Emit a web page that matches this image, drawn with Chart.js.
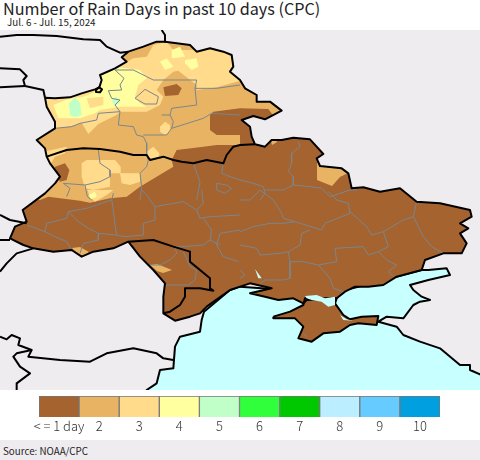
<!DOCTYPE html>
<html>
<head>
<meta charset="utf-8">
<title>Number of Rain Days in past 10 days (CPC)</title>
<script src="https://cdn.jsdelivr.net/npm/chart.js@4/dist/chart.umd.js"></script>
<style>
    html, body { margin: 0; padding: 0; background: #fff; }
    body { position: relative; width: 480px; height: 460px; overflow: hidden; font-family: "Noto Sans CJK JP", "Noto Sans", sans-serif; }
    canvas { position: absolute; left: 0; }
    #titulo { position: absolute; left: 3px; top: -4px; font-size: 16.2px; line-height: 24px; color: #222; white-space: nowrap; }
    #subtitulo { position: absolute; left: 7px; top: 15px; font-size: 9.8px; line-height: 14px; color: #222; white-space: nowrap; }
    #fuente { position: absolute; left: 0; top: 440px; width: 480px; height: 20px; background: #efecf0; font-size: 9.8px; line-height: 22px; color: #222; text-indent: 3px; }
</style>
</head>
<body>
<div id="titulo">Number of Rain Days in past 10 days (CPC)</div>
<div id="subtitulo">Jul. 6 - Jul. 15, 2024</div>
<canvas id="mapa" width="480" height="360" style="top:30px"></canvas>
<canvas id="leyenda" width="480" height="50" style="top:390px"></canvas>
<div id="fuente">Source: NOAA/CPC</div>
<script>
// Leyenda
const categorias = ['< = 1 day', '2', '3', '4', '5', '6', '7', '8', '9', '10'];
const coloresNivel = ['#a5632f', '#e8b464', '#ffdb8b', '#ffff9f', '#c1ffc8', '#30ff3c', '#00c800', '#bbeeff', '#66ccff', '#009fe0'];
const valoresLeyenda = [1, 1, 1, 1, 1, 1, 1, 1, 1, 1];

// Mapa: unidades de rejilla, 3 por pixel
const tierra = [[135,293],[165,295],[210,292],[245,280],[285,268],[298,262],[305,240],[300,225],[345,205],[380,185],[365,172],[385,155],[430,140],[470,125],[495,125],[530,130],[570,135],[590,155],[630,145],[670,155],[695,165],[700,200],[690,215],[720,240],
    [735,265],[770,285],[770,305],[810,305],[845,332],[795,358],[760,348],[725,360],[750,380],[755,410],[765,433],[795,440],[815,420],[845,420],[880,413],[930,418],[950,440],[970,462],[950,475],[960,498],[1025,505],[1045,520],[1055,565],[1090,562],[1140,575],[1200,565],[1250,605],
    [1320,610],[1410,630],[1415,650],[1380,670],[1405,685],[1380,700],[1400,730],[1385,760],[1330,760],[1275,780],[1265,810],[1190,830],[1150,855],[1105,860],[1065,860],[1035,875],[1010,895],[920,900],[910,910],[880,895],[835,900],[795,890],[750,880],[815,865],[750,850],[720,860],
    [690,870],[620,920],[600,940],[570,950],[525,962],[490,940],[490,890],[495,850],[460,810],[420,770],[385,725],[340,745],[280,755],[245,770],[215,750],[160,755],[100,745],[70,735],[30,715],[45,680],[80,665],[68,630],[135,580],
    [165,550],[180,530],[150,490],[140,470],[135,445],[110,420],[165,385],[165,365],[140,320]];
const crimea = [[820,950],[870,935],[910,915],[915,895],[1010,895],[1005,910],[1030,945],[1050,958],[1085,950],[1135,948],[1130,975],[1075,970],[1050,975],[1020,995],[970,1000],[935,1025],[895,1015],[910,980],[885,955],[820,955]];
const mar = [[430,1190],[440,1170],[470,1150],[480,1110],[520,1105],[525,1040],[540,1010],[600,995],[605,960],[612,935],[690,870],[720,860],[1000,880],[1265,810],[1285,810],[1340,805],[1350,825],[1285,840],[1230,855],[1240,870],[1265,890],[1290,900],[1260,905],[1240,915],[1210,955],[1160,950],[1135,965],[1190,980],[1210,1005],[1260,1025],[1320,1045],[1380,1095],[1410,1095],[1410,1110],[1440,1123],[1460,1130],[1460,1190]];
const sivash = [[[915,888],[950,885],[975,895],[1005,890],[1005,915],[985,920],[965,905],[935,900],[920,895]],
    [[1020,945],[1040,958],[1060,962],[1030,960]],
    [[765,807],[785,835],[775,835]]];

const parchesNivel2 = [
    [[0,90],[900,90],[900,327],[860,335],[820,347],[805,327],[720,325],[640,335],[630,345],[630,390],[650,405],[720,405],[720,435],[650,435],[610,440],[530,450],[515,480],[520,500],[470,530],[420,560],[380,590],[330,595],[270,608],[240,602],[145,590],[120,600],[0,570]],
    [[216,744],[240,741],[267,756],[246,774],[234,765]],
    [[450,795],[471,792],[516,810],[489,819],[471,813]],
    [[951,489],[1026,504],[1044,519],[1020,531],[996,558],[951,540]],
    [[813,423],[828,420],[831,426],[816,435]]
];
const parchesNivel3 = [
    [[120,290],[170,385],[215,378],[245,368],[265,402],[295,372],[350,345],[360,335],[440,335],[480,315],[490,290],[470,270],[490,240],[520,215],[535,212],[590,255],[590,270],[650,262],[730,240],[730,140],[600,150],[520,150],[500,125],[460,135],[440,170],[400,175],[370,190],[300,220],[130,285]],
    [[480,380],[495,365],[510,375],[510,395],[495,405],[480,395]],
    [[130,455],[200,440],[195,460],[165,470],[150,495]],
    [[245,490],[260,480],[345,480],[362,500],[362,520],[420,520],[420,545],[390,555],[365,550],[360,520],[330,520],[330,560],[280,570],[255,565],[245,530]],
    [[262,570],[340,570],[320,585],[285,605],[270,590]],
    [[440,455],[460,440],[478,460],[475,478],[445,475]]
];
const parchesNivel4 = [
    [[515,150],[540,140],[555,170],[515,175]],
    [[480,185],[500,175],[520,200],[495,210]],
    [[555,180],[590,175],[595,200],[575,210],[555,190]],
    [[160,315],[210,295],[250,290],[300,270],[300,225],[345,200],[420,210],[440,235],[415,255],[405,290],[420,310],[440,320],[360,320],[300,330],[285,340],[240,355],[175,355]],
    [[266,585],[285,575],[290,590],[272,598]]
];
const parchesEncimaNivel4 = [
    [[260,295],[310,290],[310,315],[270,325]],
    [[420,280],[445,272],[470,295],[465,310],[430,305]]
];
const parchesNivel5 = [
    [[207,310],[225,292],[240,310],[245,345],[225,352],[210,345]],
    [[335,300],[350,290],[360,305],[345,318]]
];
const parchesSecos = [
    [[490,262],[530,252],[545,265],[535,285],[495,288]],
    [[165,500],[195,490],[208,510],[200,540],[180,545],[160,510]]
];

// Fronteras negras fuera del contorno
const fronteras = [
    [[0,110],[50,105],[100,105],[170,108],[250,118],[300,120],[320,140],[360,158],[385,155]],
    [[0,205],[60,208],[80,228],[70,240],[75,258],[130,270],[135,293]],
    [[0,262],[75,258]],
    [[485,90],[495,105],[495,125]],
    [[288,270],[297,262],[306,268],[300,277],[290,276],[288,270]],
    [[0,645],[30,660],[80,670]],
    [[0,720],[30,720]],
    [[0,815],[20,790],[50,760],[100,745]],
    [[0,1010],[20,1018],[35,1005],[60,1015],[55,1035],[95,1050],[85,1070],[180,1080],[270,1085],[320,1060],[400,1045],[470,1060],[490,1075],[520,1080]],
    [[95,1050],[50,1060],[40,1070],[60,1100],[90,1120],[50,1150],[50,1175]],
    [[385,725],[460,720],[520,740],[570,755],[570,785],[600,810],[630,835],[630,865],[640,872],[600,865],[555,865],[555,890],[540,915],[510,935],[490,940]],
    [[140,470],[200,450],[250,445],[300,447],[360,455],[400,465],[440,465],[450,480],[490,470],[520,480],[545,485],[580,490],[620,480],[670,490],[680,465],[700,440],[720,435],[765,433]]
];

// Limites de oblast, por cuadrante
const oblastNO = [
    [[345,210],[400,210],[440,230],[460,240],[510,240],[590,240],[585,265],[650,265],[720,255]],
    [[345,210],[372,235],[360,255],[365,270],[325,272],[335,295],[360,300],[345,315],[360,335],[295,340],[290,360],[240,370],[215,380],[165,385]],
    [[360,335],[355,375],[400,380],[410,405],[430,410],[440,430],[440,465]],
    [[430,405],[500,405],[515,385],[610,355],[635,340],[720,345]],
    [[485,345],[510,345],[515,325],[590,315],[585,265]],
    [[510,345],[520,365],[515,385]],
    [[405,295],[435,268],[475,290],[470,312],[435,312],[405,295]],
    [[440,465],[445,480],[440,500],[420,520],[425,560],[420,600]],
    [[295,450],[300,490],[330,510],[330,530],[300,545],[255,555],[262,590],[275,600]],
    [[255,555],[190,550],[210,565],[200,590]],
    [[580,490],[600,545],[590,600]],
    [[670,490],[665,520],[690,530],[720,540]],
    [[650,550],[680,555],[695,565],[675,580],[650,570],[650,550]]
];
const oblastNE = [
    [[0,540],[40,550],[70,560],[75,580],[60,600]],
    [[75,570],[130,570],[160,555],[210,560],[245,565],[270,590]],
    [[175,425],[180,440],[155,460],[155,490],[145,515],[160,530],[160,555]],
    [[270,590],[330,570],[350,570]]
];
const oblastSO = [
    [[80,105],[135,125],[140,100],[200,85],[205,65],[260,55],[335,30],[340,10]],
    [[135,125],[165,140],[200,155],[215,180]],
    [[205,65],[235,95],[265,115],[295,130],[350,135],[375,140],[430,135],[430,100],[465,90],[465,50],[550,35],[590,60],[610,40],[605,0]],
    [[295,130],[295,150],[250,160],[240,190]],
    [[335,30],[340,60],[345,105],[350,135]],
    [[465,50],[440,15],[425,0]],
    [[590,60],[600,85],[630,80],[720,75]],
    [[610,85],[635,120],[630,150],[610,165],[545,170],[525,170]],
    [[525,170],[530,190],[510,210],[480,225],[450,225]],
    [[550,185],[570,230],[590,240],[585,270],[565,285],[500,285],[490,305]],
    [[720,120],[660,130],[650,165],[670,200],[715,215]],
    [[630,150],[660,165]]
];
const oblastSE = [
    [[60,0],[100,30],[125,70],[130,85],[165,95],[245,120],[255,100],[330,70],[325,40],[290,30],[265,5]],
    [[330,65],[380,110],[395,135],[430,125],[490,90],[520,80],[530,35]],
    [[520,80],[550,140],[575,170],[610,190]],
    [[430,125],[445,170],[415,185],[385,195],[370,170],[285,175],[290,215],[235,225],[190,215],[150,215],[145,185],[180,165],[185,130],[210,120]],
    [[0,125],[40,110],[90,100],[130,100],[165,95]],
    [[0,165],[50,175],[60,195],[120,190],[145,185]],
    [[150,215],[150,265],[130,270],[75,270],[60,280]],
    [[0,240],[15,255],[0,265]],
    [[235,225],[270,265],[280,295],[310,305]],
    [[415,185],[440,210],[470,225],[445,245],[460,260]],
    [[0,30],[30,30],[60,0]],
    [[190,430],[200,440]]
];

const COLOR_FONDO = '#efecf0';
const COLOR_MAR = '#c8ffff';
const COLOR_OBLAST = '#7b868c';

const aPuntos = pts => pts.map(([x, y]) => ({ x, y }));
const mover = (lista, dx, dy) => lista.map(seg => seg.map(([x, y]) => [x + dx, y + dy]));
const cerrar = pts => [...pts, pts[0]];

function relleno(pts, color, id) {
    return { id, data: aPuntos(cerrar(pts)), showLine: true, fill: 'shape', backgroundColor: color, borderWidth: 0, pointRadius: 0, tension: 0 };
}
function linea(pts, color, ancho) {
    return { data: aPuntos(pts), showLine: true, fill: false, borderColor: color, borderWidth: ancho, borderJoinStyle: 'round', pointRadius: 0, tension: 0 };
}

// Orden de abajo hacia arriba; Chart.js pinta el primer dataset encima
const capas = [
    relleno(mar, COLOR_MAR),
    linea(cerrar(mar), '#000', 2),
    relleno(tierra, coloresNivel[0], 'tierra'),
    ...parchesNivel2.map(p => relleno(p, coloresNivel[1])),
    ...parchesNivel3.map(p => relleno(p, coloresNivel[2])),
    ...parchesNivel4.map(p => relleno(p, coloresNivel[3])),
    ...parchesEncimaNivel4.map(p => relleno(p, coloresNivel[2])),
    ...parchesNivel5.map(p => relleno(p, coloresNivel[4])),
    ...parchesSecos.map(p => relleno(p, coloresNivel[0])),
    relleno([[0,0],[0,0],[0,0]], 'transparent', 'finParches'),
    relleno(crimea, coloresNivel[0]),
    ...[...oblastNO, ...mover(oblastNE, 720, 0), ...mover(oblastSO, 0, 570), ...mover(oblastSE, 720, 570)].map(s => linea(s, COLOR_OBLAST, 1)),
    linea(cerrar(tierra), '#000', 2),
    linea(cerrar(crimea), '#000', 2),
    ...fronteras.map(s => linea(s, '#000', 2)),
    ...sivash.map(p => relleno(p, COLOR_MAR))
];

// Recorta los parches de lluvia al contorno de la tierra
const recorteTierra = {
    id: 'recorteTierra',
    beforeDraw(chart) {
        const { ctx, chartArea } = chart;
        ctx.fillStyle = COLOR_FONDO;
        ctx.fillRect(chartArea.left, chartArea.top, chartArea.width, chartArea.height);
    },
    afterDatasetDraw(chart, args) {
        const ds = chart.data.datasets[args.index];
        const { ctx, scales } = chart;
        if (ds.id === 'tierra') {
            ctx.save();
            ctx.beginPath();
            tierra.forEach(([x, y], i) => {
                const px = scales.x.getPixelForValue(x);
                const py = scales.y.getPixelForValue(y);
                if (i === 0) ctx.moveTo(px, py); else ctx.lineTo(px, py);
            });
            ctx.closePath();
            ctx.clip();
        } else if (ds.id === 'finParches') {
            ctx.restore();
        }
    }
};

new Chart(document.getElementById('mapa'), {
    type: 'scatter',
    data: { datasets: capas.reverse() },
    options: {
        responsive: false,
        animation: false,
        events: [],
        layout: { padding: 0 },
        plugins: { legend: { display: false }, tooltip: { enabled: false } },
        scales: {
            x: { type: 'linear', display: false, min: 0, max: 1440 },
            y: { type: 'linear', display: false, reverse: true, min: 90, max: 1170 }
        }
    },
    plugins: [recorteTierra]
});

new Chart(document.getElementById('leyenda'), {
    type: 'bar',
    data: {
        labels: categorias,
        datasets: [{
            data: valoresLeyenda,
            backgroundColor: coloresNivel,
            borderColor: '#777',
            borderWidth: 1,
            barPercentage: 1,
            categoryPercentage: 1
        }]
    },
    options: {
        responsive: false,
        animation: false,
        events: [],
        layout: { padding: { left: 39, right: 40, top: 6, bottom: 0 } },
        plugins: { legend: { display: false }, tooltip: { enabled: false } },
        scales: {
            y: { display: false, min: 0, max: 1 },
            x: {
                grid: { display: false, drawTicks: false },
                border: { display: false },
                afterFit(scale) { scale.height = 23; },
                ticks: {
                    autoSkip: false,
                    maxRotation: 0,
                    padding: 1,
                    color: '#333',
                    font: { family: '"Noto Sans CJK JP", "Noto Sans", sans-serif', size: 13, weight: '300' }
                }
            }
        }
    }
});
</script>
</body>
</html>
